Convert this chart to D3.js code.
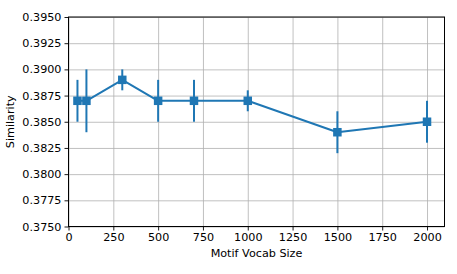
<!DOCTYPE html>
<html>
<head>
<meta charset="utf-8">
<script src="https://cdn.jsdelivr.net/npm/d3@7"></script>
<style>
  body { margin: 0; background: white; }
  svg { font-family: "DejaVu Sans", sans-serif; }
  .grid line { stroke: #b0b0b0; stroke-width: 0.8; }
  .grid path { display: none; }
</style>
</head>
<body>
<div id="container"></div>
<script>
// vocab sizes and measured similarity (with error)
const vocabSizes = [50, 100, 300, 500, 700, 1000, 1500, 2000];
const similarity = [0.387, 0.387, 0.389, 0.387, 0.387, 0.387, 0.384, 0.385];
const errors = [0.002, 0.003, 0.001, 0.002, 0.002, 0.001, 0.002, 0.002];
const xTicks = [0, 250, 500, 750, 1000, 1250, 1500, 1750, 2000];
const yTicks = [0.375, 0.3775, 0.38, 0.3825, 0.385, 0.3875, 0.39, 0.3925, 0.395];

const width = 457, height = 274;
const margin = { top: 17, right: 12.5, bottom: 47.5, left: 68.5 };
const w = width - margin.left - margin.right;
const h = height - margin.top - margin.bottom;
const color = "#1f77b4";

const data = vocabSizes.map((v, i) => ({ x: v, y: similarity[i], e: errors[i] }));

const svg = d3.select("#container").append("svg")
  .attr("width", width).attr("height", height);
const g = svg.append("g").attr("transform", `translate(${margin.left},${margin.top})`);

const xScale = d3.scaleLinear().domain([0, 2097.5]).range([0, w]);
const yScale = d3.scaleLinear().domain([0.375, 0.395]).range([h, 0]);

// grid
g.append("g").attr("class", "grid")
  .attr("transform", `translate(0,${h})`)
  .call(d3.axisBottom(xScale).tickValues(xTicks).tickSize(-h).tickFormat(""));
g.append("g").attr("class", "grid")
  .call(d3.axisLeft(yScale).tickValues(yTicks).tickSize(-w).tickFormat(""));

// frame
g.append("rect").attr("width", w).attr("height", h)
  .attr("fill", "none").attr("stroke", "black").attr("stroke-width", 1);

// axes
const xAxis = g.append("g").attr("transform", `translate(0,${h})`)
  .call(d3.axisBottom(xScale).tickValues(xTicks).tickSize(4).tickPadding(3).tickFormat(d3.format("d")));
const yAxis = g.append("g")
  .call(d3.axisLeft(yScale).tickValues(yTicks).tickSize(4).tickPadding(3).tickFormat(d3.format(".4f")));
[xAxis, yAxis].forEach(a => {
  a.select(".domain").remove();
  a.selectAll("text").attr("font-size", 11.2).attr("fill", "black")
    .attr("font-family", "DejaVu Sans");
  a.selectAll("line").attr("stroke", "black").attr("stroke-width", 0.9);
});

// error bars
g.selectAll(".err").data(data).join("line")
  .attr("class", "err")
  .attr("x1", d => xScale(d.x)).attr("x2", d => xScale(d.x))
  .attr("y1", d => yScale(d.y - d.e)).attr("y2", d => yScale(d.y + d.e))
  .attr("stroke", color).attr("stroke-width", 2);

// line
const line = d3.line().x(d => xScale(d.x)).y(d => yScale(d.y));
g.append("path").datum(data)
  .attr("fill", "none").attr("stroke", color).attr("stroke-width", 2)
  .attr("stroke-linejoin", "round")
  .attr("d", line);

// square markers
const ms = 8.5;
g.selectAll(".mk").data(data).join("rect")
  .attr("class", "mk")
  .attr("x", d => xScale(d.x) - ms / 2).attr("y", d => yScale(d.y) - ms / 2)
  .attr("width", ms).attr("height", ms)
  .attr("fill", color);

// labels
svg.append("text")
  .attr("x", margin.left + w / 2).attr("y", 257)
  .attr("text-anchor", "middle").attr("font-size", 11.2)
  .text("Motif Vocab Size");
svg.append("text")
  .attr("transform", `translate(13.5,${margin.top + h / 2}) rotate(-90)`)
  .attr("text-anchor", "middle").attr("font-size", 11.2)
  .text("Similarity");
</script>
</body>
</html>
